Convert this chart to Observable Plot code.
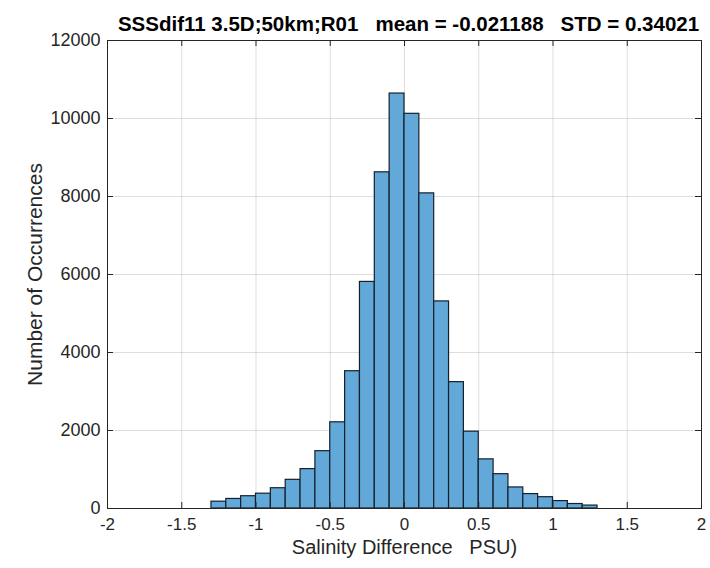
<!DOCTYPE html>
<html>
<head>
<meta charset="utf-8">
<script src="https://cdn.jsdelivr.net/npm/d3@7"></script>
<script src="https://cdn.jsdelivr.net/npm/@observablehq/plot@0.6"></script>
<style>
  body { margin: 0; background: #fff; }
  #chart svg { display: block; }
</style>
</head>
<body>
<div id="chart"></div>
<script>
// Histogram of sea-surface-salinity differences (bin edges in PSU, counts per bin)
const binEdges = [-1.3, -1.2, -1.1, -1.0, -0.9, -0.8, -0.7, -0.6, -0.5, -0.4, -0.3, -0.2, -0.1,
                  0.0, 0.1, 0.2, 0.3, 0.4, 0.5, 0.6, 0.7, 0.8, 0.9, 1.0, 1.1, 1.2, 1.3];
const counts = [175, 245, 315, 380, 520, 735, 1010, 1470, 2210, 3520, 5810, 8620, 10640,
                10120, 8080, 5310, 3240, 1970, 1260, 880, 540, 370, 290, 190, 115, 75];

const xTicks = [-2, -1.5, -1, -0.5, 0, 0.5, 1, 1.5, 2];
const yTicks = [0, 2000, 4000, 6000, 8000, 10000, 12000];

const titleText = "SSSdif11 3.5D;50km;R01   mean = -0.021188   STD = 0.34021";
const xLabel = "Salinity Difference   PSU)";
const yLabel = "Number of Occurrences";

const bins = counts.map((c, i) => ({x1: binEdges[i], x2: binEdges[i + 1], count: c}));

const W = 710, H = 568;
const mL = 107, mR = 9, mT = 40, mB = 60;
const innerW = W - mL - mR, innerH = H - mT - mB;
const tickLen = 6;
const ink = "#262626";
const keepSpaces = s => s.replace(/ /g, "\u00a0");

const chart = Plot.plot({
  width: W,
  height: H,
  marginLeft: mL,
  marginRight: mR,
  marginTop: mT,
  marginBottom: mB,
  style: {fontFamily: "'Liberation Sans', Arial, Helvetica, sans-serif", fontSize: "15px", color: ink, background: "#fff"},
  x: {domain: [-2, 2]},
  y: {domain: [0, 12000]},
  marks: [
    Plot.gridX(xTicks, {stroke: "#000", strokeOpacity: 0.13}),
    Plot.gridY(yTicks, {stroke: "#000", strokeOpacity: 0.13}),
    Plot.rectY(bins, {x1: "x1", x2: "x2", y: "count", fill: "#62a8d8", stroke: "#16202c", strokeWidth: 1.2}),
    Plot.frame({stroke: ink, strokeWidth: 1}),
    // inward ticks on all four sides of the box
    Plot.tickX(xTicks, {x: d => d, insetTop: innerH - tickLen, stroke: ink}),
    Plot.tickX(xTicks, {x: d => d, insetBottom: innerH - tickLen, stroke: ink}),
    Plot.tickY(yTicks, {y: d => d, insetRight: innerW - tickLen, stroke: ink}),
    Plot.tickY(yTicks, {y: d => d, insetLeft: innerW - tickLen, stroke: ink}),
    Plot.axisX(xTicks, {tickSize: 0, tickPadding: 9, tickFormat: d => String(d), label: null, fontSize: 17, fill: ink}),
    Plot.axisY(yTicks, {tickSize: 0, tickPadding: 7, tickFormat: d => String(d), label: null, fontSize: 18, fill: ink}),
    Plot.text([titleText], {text: keepSpaces, frameAnchor: "top", dx: 4, dy: -24, fontWeight: "bold", fontSize: 20.5, fill: "#000"}),
    Plot.text([xLabel], {text: keepSpaces, frameAnchor: "bottom", dy: 45, fontSize: 20, fill: ink}),
    Plot.text([yLabel], {frameAnchor: "left", textAnchor: "middle", rotate: -90, dx: -72, fontSize: 21, fill: ink})
  ]
});

document.getElementById("chart").append(chart);
</script>
</body>
</html>
